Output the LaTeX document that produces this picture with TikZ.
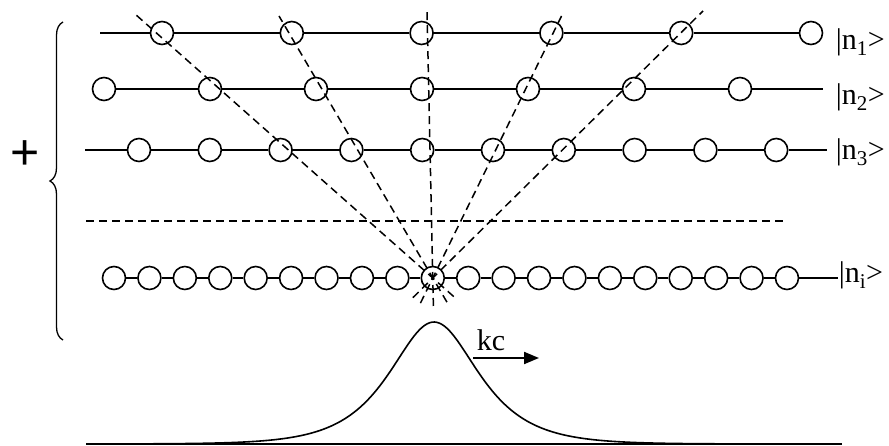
\documentclass[tikz,border=0pt]{standalone}
\usepackage{fontspec}
\setmainfont{Liberation Serif}
\newfontfamily\plusfont{Liberation Sans}
\usetikzlibrary{arrows.meta,decorations.pathreplacing}

\begin{document}
\begin{tikzpicture}[
  x=1pt, y=-1pt,
  line width=1.6pt,
  site/.style={draw, circle, fill=white, minimum size=23pt, inner sep=0pt},
  ray/.style={line width=1.5pt, dash pattern=on 8pt off 5pt, shorten <=-28pt},
  gap/.style={line width=1.5pt, dash pattern=on 8pt off 5pt},
  lab/.style={font=\fontsize{30}{36}\selectfont, inner sep=0pt, anchor=base west},
  arr/.style={-{Triangle[length=15pt, width=12pt]}, line width=2pt}
]
\useasboundingbox (0,0) rectangle (889,446);
% sites of the four rows
\foreach \k in {0,...,5}  {\node[site] (a\k) at (162+129.8*\k, 33) {};}
\foreach \k in {0,...,6}  {\node[site] (b\k) at (104+106*\k, 89) {};}
\foreach \k in {0,...,9}  {\node[site] (c\k) at (139+70.8*\k, 150) {};}
\foreach \k in {0,...,19} {\node[site] (d\k) at (114+35.42*\k, 278) {};}
\coordinate (a-l) at (100,33);
\coordinate (b-r) at (823,89);
\coordinate (c-l) at (85,150);
\coordinate (c-r) at (827,150);
\coordinate (d-r) at (838,278);
% bonds
\draw (a-l) -- (a0);
\foreach \k [evaluate=\k as \j using int(\k+1)] in {0,...,4}  {\draw (a\k) -- (a\j);}
\foreach \k [evaluate=\k as \j using int(\k+1)] in {0,...,5}  {\draw (b\k) -- (b\j);}
\draw (b6) -- (b-r);
\draw (c-l) -- (c0);
\foreach \k [evaluate=\k as \j using int(\k+1)] in {0,...,8}  {\draw (c\k) -- (c\j);}
\draw (c9) -- (c-r);
\foreach \k [evaluate=\k as \j using int(\k+1)] in {0,...,18} {\draw (d\k) -- (d\j);}
\draw (d19) -- (d-r);
% row labels
\node[lab] (l1) at (835,50) {|n\textsubscript{1}>};
\node[lab] (l2) at (835,105) {|n\textsubscript{2}>};
\node[lab] (l3) at (835,160) {|n\textsubscript{3}>};
\node[lab] (li) at (838,283) {|n\textsubscript{i}>};
% ellipsis row
\coordinate (g-l) at (86,221);
\coordinate (g-r) at (783,221);
\draw[gap] (g-l) -- (g-r);
% rays through the focus
\coordinate (t1) at (135,14);
\coordinate (t2) at (279,16);
\coordinate (t3) at (427,10);
\coordinate (t4) at (563,13);
\coordinate (t5) at (703,11);
\foreach \t in {t1,t2,t3,t4,t5} {\draw[ray] (d9.center) -- (\t);}
% superposition brace
\coordinate (br-b) at (63,340);
\coordinate (br-t) at (63,22);
\draw[line width=1.3pt, decorate, decoration={brace, amplitude=13pt}] (br-b) -- (br-t);
\node[font=\plusfont\fontsize{50}{50}\selectfont, inner sep=0pt] (plus) at (25,155) {+};
% wave packet
\coordinate (base-l) at (86,444);
\coordinate (base-r) at (842,444);
\draw[line width=1.9pt] (base-l) -- (base-r);
\draw plot[domain=137:737, samples=241, smooth]
  (\x, {444-122*2/(exp((\x-434)/39.5)+exp(-(\x-434)/39.5))});
\coordinate (v-a) at (473,358);
\coordinate (v-b) at (539,358);
\draw[arr] (v-a) -- (v-b);
\node[lab] (kc) at (476,350) {kc};
\end{tikzpicture}
\end{document}
